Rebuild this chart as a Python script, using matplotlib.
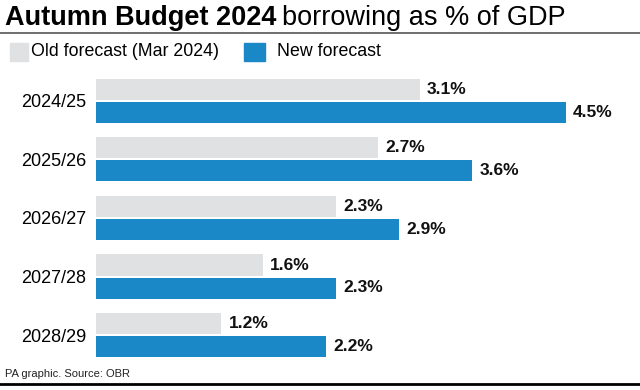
import matplotlib
matplotlib.use("Agg")
import matplotlib.pyplot as plt
from matplotlib.patches import Rectangle

years = ["2024/25", "2025/26", "2026/27", "2027/28", "2028/29"]
old_forecast = [3.1, 2.7, 2.3, 1.6, 1.2]
new_forecast = [4.5, 3.6, 2.9, 2.3, 2.2]
series_names = ["Old forecast (Mar 2024)", "New forecast"]

GREY = "#e0e1e2"
BLUE = "#1a87c6"
FONT = ["Liberation Sans", "DejaVu Sans"]
plt.rcParams["font.family"] = FONT

fig = plt.figure(figsize=(6.4, 3.9), dpi=100)
W, H = 640, 390

# axes: left 96px, right 640px, top 70px, bottom 370px
ax = fig.add_axes([96 / W, 1 - 370 / H, (640 - 96) / W, 300 / H])
px_per_unit = 104.4
ax.set_xlim(0, 544 / px_per_unit)
spacing = 58.5
ax.set_ylim((370 - 101) / spacing, (70 - 101) / spacing)

bh = 21 / spacing
off = 11.5 / spacing
ypos = list(range(len(years)))
ax.barh([y - off for y in ypos], old_forecast, height=bh, color=GREY)
ax.barh([y + off for y in ypos], new_forecast, height=bh, color=BLUE)

for y, v in zip(ypos, old_forecast):
    ax.text(v + 0.07, y - off, f"{v}%", va="center", ha="left",
            fontsize=12.5, fontweight="bold", color="#111111")
for y, v in zip(ypos, new_forecast):
    ax.text(v + 0.07, y + off, f"{v}%", va="center", ha="left",
            fontsize=12.5, fontweight="bold", color="#111111")

ax.set_yticks(ypos)
ax.set_yticklabels(years, fontsize=13)
ax.tick_params(axis="y", length=0, pad=7)
ax.set_xticks([])
for s in ax.spines.values():
    s.set_visible(False)
ax.patch.set_alpha(0)

# title
t1 = fig.text(5 / W, 1 - 18 / H, "Autumn Budget 2024", fontsize=19.5,
              fontweight="bold", va="center", ha="left")
fig.canvas.draw()
bb = t1.get_window_extent()
fig.text(bb.x1 / W + 6 / W, 1 - 18 / H, "borrowing as % of GDP", fontsize=19.5,
         va="center", ha="left")

# line under title
fig.add_artist(plt.Line2D([0, 1], [1 - 33 / H, 1 - 33 / H], color="#555555", lw=1.2))

# legend
fig.add_artist(Rectangle((10 / W, 1 - 61 / H), 18 / W, 18 / H, color=GREY,
                         transform=fig.transFigure))
fig.text(31 / W, 1 - 52 / H, series_names[0], fontsize=12.8, va="center", ha="left")
fig.add_artist(Rectangle((244 / W, 1 - 61 / H), 21 / W, 18 / H, color=BLUE,
                         transform=fig.transFigure))
fig.text(277 / W, 1 - 52 / H, series_names[1], fontsize=12.8, va="center", ha="left")

# source
fig.text(5 / W, 1 - 374 / H, "PA graphic. Source: OBR", fontsize=8, va="center",
         ha="left", color="#222222")
fig.add_artist(plt.Line2D([0, 1], [1 - 384 / H, 1 - 384 / H], color="black", lw=2))

fig.savefig("out.png", dpi=100, facecolor="white")
